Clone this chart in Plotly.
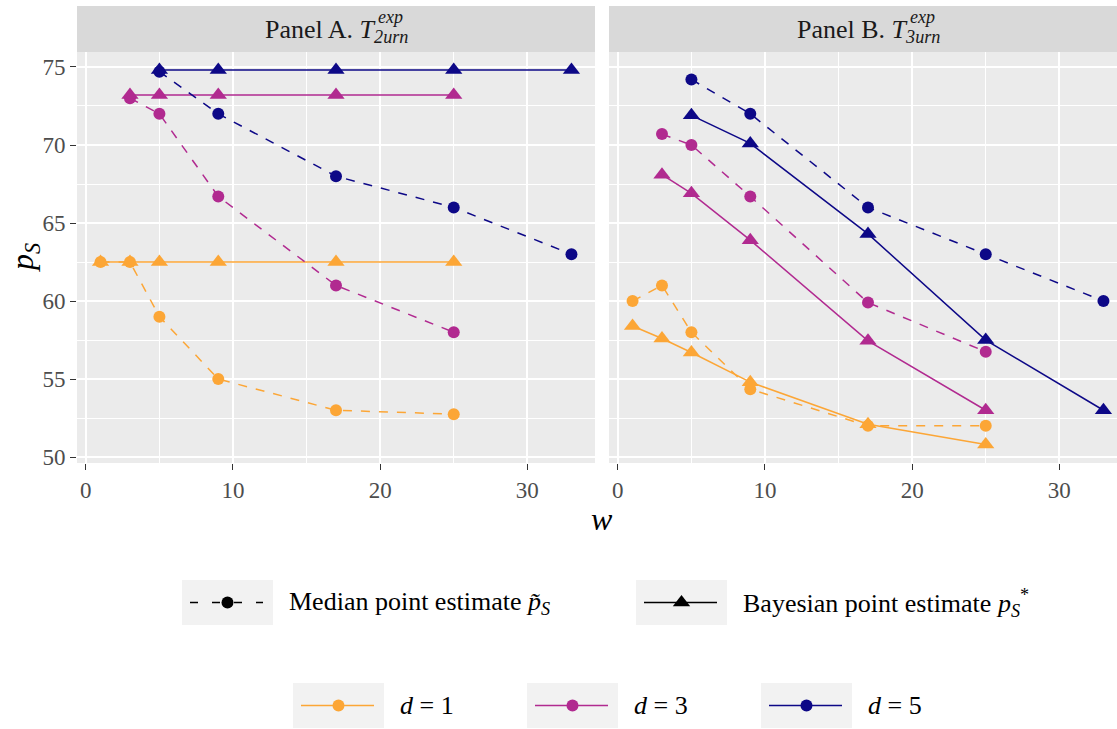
import plotly.graph_objects as go

# ---------------- data ----------------
# Panel A: T_2urn
a_d1_w = [1, 3, 5, 9, 17, 25]
a_d1_median = [62.5, 62.5, 59.0, 55.0, 53.0, 52.75]
a_d1_bayes = [62.5, 62.5, 62.5, 62.5, 62.5, 62.5]
a_d3_w = [3, 5, 9, 17, 25]
a_d3_median = [73.0, 72.0, 66.7, 61.0, 58.0]
a_d3_bayes = [73.2, 73.2, 73.2, 73.2, 73.2]
a_d5_w = [5, 9, 17, 25, 33]
a_d5_median = [74.7, 72.0, 68.0, 66.0, 63.0]
a_d5_bayes = [74.8, 74.8, 74.8, 74.8, 74.8]

# Panel B: T_3urn
b_d1_w = [1, 3, 5, 9, 17, 25]
b_d1_median = [60.0, 61.0, 58.0, 54.35, 52.0, 52.0]
b_d1_bayes = [58.4, 57.6, 56.7, 54.8, 52.1, 50.8]
b_d3_w = [3, 5, 9, 17, 25]
b_d3_median = [70.7, 70.0, 66.7, 59.9, 56.75]
b_d3_bayes = [68.1, 66.9, 63.9, 57.45, 53.0]
b_d5_w = [5, 9, 17, 25, 33]
b_d5_median = [74.2, 72.0, 66.0, 63.0, 60.0]
b_d5_bayes = [71.9, 70.1, 64.3, 57.5, 53.0]

d_levels = [1, 3, 5]
d_colors = {1: "#FCA636", 3: "#B12A90", 5: "#0D0887"}
x_ticks = [0, 10, 20, 30]
y_ticks = [50, 55, 60, 65, 70, 75]

panel_a = {1: (a_d1_w, a_d1_median, a_d1_bayes),
           3: (a_d3_w, a_d3_median, a_d3_bayes),
           5: (a_d5_w, a_d5_median, a_d5_bayes)}
panel_b = {1: (b_d1_w, b_d1_median, b_d1_bayes),
           3: (b_d3_w, b_d3_median, b_d3_bayes),
           5: (b_d5_w, b_d5_median, b_d5_bayes)}

# ---------------- geometry ----------------
W, H = 1117, 729
ML, MT = 77, 52
PW, PH = 1040, 411          # plotting region in pixels
PANEL_PX = 518              # width of one facet panel
GAP_PX = 14
PLOT_BOTTOM = MT + PH

X_LO, X_HI = -0.6, 34.6
Y_LO, Y_HI = 49.62, 75.96
px_per_unit = PANEL_PX / (X_HI - X_LO)
panel_b_px = PW - PANEL_PX - GAP_PX
xb_hi = X_LO + panel_b_px / px_per_unit


def fx(px):
    return (px - ML) / PW


def fy(py):
    return (PLOT_BOTTOM - py) / PH


SERIF = "Liberation Serif"
LINE_W = 1.5

fig = go.Figure()

for panel, xr, yr in ((panel_a, "x", "y"), (panel_b, "x2", "y2")):
    for d in d_levels:
        w, med, bay = panel[d]
        col = d_colors[d]
        fig.add_trace(go.Scatter(
            x=w, y=med, xaxis=xr, yaxis=yr, mode="lines+markers",
            line=dict(color=col, width=LINE_W, dash="dash"),
            marker=dict(symbol="circle", size=12, color=col),
            name=f"d = {d} median", showlegend=False, hoverinfo="x+y"))
        fig.add_trace(go.Scatter(
            x=w, y=bay, xaxis=xr, yaxis=yr, mode="lines+markers",
            line=dict(color=col, width=LINE_W),
            marker=dict(symbol="triangle-up", size=15, color=col),
            name=f"d = {d} Bayesian", showlegend=False, hoverinfo="x+y"))

tickfont = dict(family=SERIF, size=23, color="#4D4D4D")
common_x = dict(tickvals=x_ticks, ticks="outside", ticklen=6, tickwidth=1.1,
                tickcolor="#333333", tickfont=tickfont, showgrid=True,
                gridcolor="white", gridwidth=1.6, zeroline=False,
                showline=False,
                minor=dict(dtick=5, tick0=0, showgrid=True,
                           gridcolor="white", gridwidth=0.8))
common_y = dict(range=[Y_LO, Y_HI], tickvals=y_ticks, showgrid=True,
                gridcolor="white", gridwidth=1.6, zeroline=False,
                showline=False,
                minor=dict(dtick=2.5, tick0=50, showgrid=True,
                           gridcolor="white", gridwidth=0.8))

fig.update_layout(
    width=W, height=H,
    margin=dict(l=ML, r=W - ML - PW, t=MT, b=H - PLOT_BOTTOM, pad=0),
    paper_bgcolor="white", plot_bgcolor="#EBEBEB",
    showlegend=False,
    xaxis=dict(domain=[0, PANEL_PX / PW], range=[X_LO, X_HI],
               anchor="y", **common_x),
    xaxis2=dict(domain=[(PANEL_PX + GAP_PX) / PW, 1], range=[X_LO, xb_hi],
                anchor="y2", **common_x),
    yaxis=dict(domain=[0, 1], anchor="x", ticks="outside", ticklen=6,
               tickwidth=1.1, tickcolor="#333333", tickfont=tickfont,
               **common_y),
    yaxis2=dict(domain=[0, 1], anchor="x2", matches="y",
                showticklabels=False, ticks="", **common_y),
)

shapes = []
annotations = []

# facet strips
strip_top = fy(6)
for x0, x1 in ((0, PANEL_PX / PW), ((PANEL_PX + GAP_PX) / PW, 1)):
    shapes.append(dict(type="rect", xref="paper", yref="paper", x0=x0, x1=x1,
                       y0=1, y1=strip_top, fillcolor="#D9D9D9",
                       line=dict(width=0), layer="below"))

strip_font = dict(family=SERIF, size=26, color="#1A1A1A")
for label, sub, center_px in (("Panel A.", "2urn", ML + PANEL_PX / 2),
                              ("Panel B.", "3urn",
                               ML + PANEL_PX + GAP_PX + PANEL_PX / 2)):
    annotations.append(dict(
        xref="paper", yref="paper", x=fx(center_px), y=fy(31),
        xanchor="center", yanchor="middle", showarrow=False,
        text=f"{label} <i>T</i><sub><i>{sub}</i></sub>", font=strip_font))
    annotations.append(dict(
        xref="paper", yref="paper", x=fx(center_px + 40), y=fy(17),
        xanchor="left", yanchor="middle", showarrow=False,
        text="<i>exp</i>", font=dict(family=SERIF, size=18, color="#1A1A1A")))

# axis titles
annotations.append(dict(
    xref="paper", yref="paper", x=fx(602), y=fy(519), xanchor="center",
    yanchor="middle", showarrow=False, text="<i>w</i>",
    font=dict(family=SERIF, size=32, color="black")))
annotations.append(dict(
    xref="paper", yref="paper", x=fx(24), y=fy(258), xanchor="center",
    yanchor="middle", showarrow=False, textangle=-90,
    text="<i>p</i><sub><i>S</i></sub>",
    font=dict(family=SERIF, size=32, color="black")))

# legend keys
KEY_W, KEY_H = 91, 45
legend_font = dict(family=SERIF, size=26, color="black")


def key(box_x, cy, color, dash, symbol, text):
    shapes.append(dict(type="rect", xref="paper", yref="paper",
                       x0=fx(box_x), x1=fx(box_x + KEY_W),
                       y0=fy(cy + KEY_H / 2), y1=fy(cy - KEY_H / 2),
                       fillcolor="#F2F2F2", line=dict(width=0)))
    shapes.append(dict(type="line", xref="paper", yref="paper",
                       x0=fx(box_x + 8), x1=fx(box_x + 81),
                       y0=fy(cy), y1=fy(cy),
                       line=dict(color=color, width=1.6, dash=dash)))
    mx, my = fx(box_x + KEY_W / 2), fy(cy)
    if symbol == "circle":
        shapes.append(dict(type="circle", xref="paper", yref="paper",
                           xsizemode="pixel", ysizemode="pixel",
                           xanchor=mx, yanchor=my, x0=-6, x1=6, y0=-6, y1=6,
                           fillcolor=color, line=dict(width=0)))
    else:
        shapes.append(dict(type="path", xref="paper", yref="paper",
                           xsizemode="pixel", ysizemode="pixel",
                           xanchor=mx, yanchor=my,
                           path="M-8.7,-3.8 L8.7,-3.8 L0,7.5 Z",
                           fillcolor=color, line=dict(width=0)))
    annotations.append(dict(xref="paper", yref="paper",
                            x=fx(box_x + KEY_W + 14), y=fy(cy),
                            xanchor="left", yanchor="middle", showarrow=False,
                            text=text, font=legend_font))


ROW1, ROW2 = 602.5, 705.5
key(182, ROW1, "black", "8px,14px", "circle",
    "Median point estimate <i>p\u0303</i><sub><i>S</i></sub>")
key(636, ROW1, "black", "solid", "triangle",
    "Bayesian point estimate <i>p</i><sub><i>S</i></sub><sup>*</sup>")
for d, bx in zip(d_levels, (293, 527, 761)):
    key(bx, ROW2, d_colors[d], "solid", "circle", f"<i>d</i> = {d}")

fig.update_layout(shapes=shapes, annotations=annotations)
fig.write_html("out.html")
